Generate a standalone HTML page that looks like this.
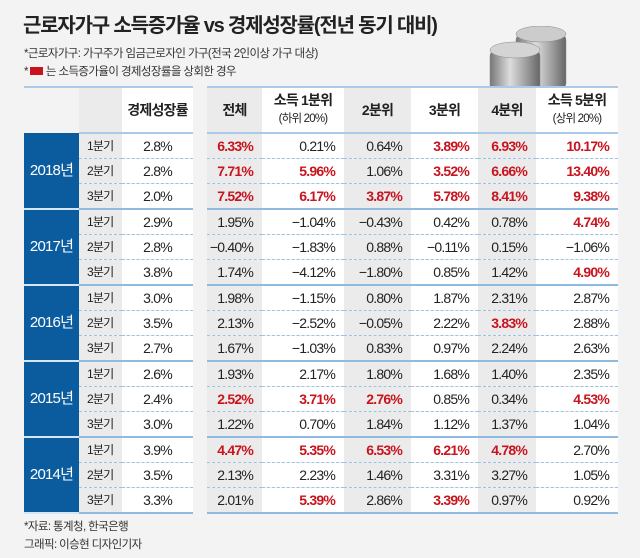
<!DOCTYPE html>
<html><head><meta charset="utf-8">
<style>
body{margin:0;width:640px;height:558px;background:#f3f3f3;font-family:"Liberation Sans","Noto Sans CJK KR",sans-serif;position:relative;overflow:hidden;color:#222}
.t{position:absolute;left:23px;top:9px;font-size:20px;font-weight:bold;letter-spacing:-1.2px;color:#222}
.s{position:absolute;left:24px;font-size:11.5px;letter-spacing:-0.6px;color:#333}
table{position:absolute;left:24px;top:86px;border-collapse:collapse;table-layout:fixed}
td{padding:0;height:24px;line-height:16px;font-size:14px;letter-spacing:-0.8px;border-bottom:1px dashed #9cc3e3;overflow:hidden;white-space:nowrap}
tr.h td{height:44px;border-top:2px solid #a9cbe8;border-bottom:2px solid #a9cbe8;font-weight:bold;text-align:center;font-size:14px;line-height:17px}
tr.h td.sm span{font-weight:normal;font-size:11.5px}
td.y{background:#0b5c9f;color:#fff;text-align:center;font-size:15px;border-bottom:2px solid #d6e5f2}
td.q{background:#ebebeb;font-size:12px;padding-left:8px}
td.gr{background:#fff;text-align:center}
td.gap{background:#f3f3f3;border:none!important}
td.g{background:#ebebeb}td.w{background:#fff}
td.n{text-align:right;padding-right:9px}
tr.e td{border-bottom:2px solid #8fbbe0}
tr.h td.none{border:none;background:#f3f3f3}
.r{color:#c8141e;font-weight:bold}
</style></head><body>
<div class="t">근로자가구 소득증가율 vs 경제성장률(전년 동기 대비)</div>
<div class="s" style="top:45px">*근로자가구: 가구주가 임금근로자인 가구(전국 2인이상 가구 대상)</div>
<div class="s" style="top:63px">*<span style="display:inline-block;width:13px;height:8px;background:#c8141e;margin:0 3px 0 2px"></span>는 소득증가율이 경제성장률을 상회한 경우</div>
<svg style="position:absolute;left:488px;top:26px" width="100" height="80">
<defs><linearGradient id="c" x1="0" x2="1"><stop offset="0" stop-color="#777"/><stop offset=".4" stop-color="#ddd"/><stop offset="1" stop-color="#666"/></linearGradient></defs>
<g fill="url(#c)" stroke="#888" stroke-width=".5">
<rect x="28" y="8" width="50" height="55" rx="6"/><ellipse cx="53" cy="8" rx="25" ry="8" fill="#ccc"/>
<rect x="2" y="24" width="50" height="46" rx="6"/><ellipse cx="27" cy="24" rx="25" ry="8" fill="#d4d4d4"/>
</g></svg>
<table>
<colgroup><col style="width:55px"><col style="width:43px"><col style="width:71px"><col style="width:14px"><col style="width:55px"><col style="width:82px"><col style="width:67px"><col style="width:67px"><col style="width:58px"><col style="width:82px"></colgroup>
<tr class="h"><td class="none" style="border-top:2px solid #a9cbe8"></td><td style="background:#ebebeb"></td><td class="w">경제성장률</td><td class="gap"></td><td class="g">전체</td><td class="w sm">소득 1분위<br><span>(하위 20%)</span></td><td class="g">2분위</td><td class="w">3분위</td><td class="g">4분위</td><td class="w sm">소득 5분위<br><span>(상위 20%)</span></td></tr>
<tr><td class="y" rowspan="3">2018년</td><td class="q">1분기</td><td class="gr">2.8%</td><td class="gap"></td><td class="g n r">6.33%</td><td class="w n">0.21%</td><td class="g n">0.64%</td><td class="w n r">3.89%</td><td class="g n r">6.93%</td><td class="w n r">10.17%</td></tr>
<tr><td class="q">2분기</td><td class="gr">2.8%</td><td class="gap"></td><td class="g n r">7.71%</td><td class="w n r">5.96%</td><td class="g n">1.06%</td><td class="w n r">3.52%</td><td class="g n r">6.66%</td><td class="w n r">13.40%</td></tr>
<tr class="e"><td class="q">3분기</td><td class="gr">2.0%</td><td class="gap"></td><td class="g n r">7.52%</td><td class="w n r">6.17%</td><td class="g n r">3.87%</td><td class="w n r">5.78%</td><td class="g n r">8.41%</td><td class="w n r">9.38%</td></tr>
<tr><td class="y" rowspan="3">2017년</td><td class="q">1분기</td><td class="gr">2.9%</td><td class="gap"></td><td class="g n">1.95%</td><td class="w n">−1.04%</td><td class="g n">−0.43%</td><td class="w n">0.42%</td><td class="g n">0.78%</td><td class="w n r">4.74%</td></tr>
<tr><td class="q">2분기</td><td class="gr">2.8%</td><td class="gap"></td><td class="g n">−0.40%</td><td class="w n">−1.83%</td><td class="g n">0.88%</td><td class="w n">−0.11%</td><td class="g n">0.15%</td><td class="w n">−1.06%</td></tr>
<tr class="e"><td class="q">3분기</td><td class="gr">3.8%</td><td class="gap"></td><td class="g n">1.74%</td><td class="w n">−4.12%</td><td class="g n">−1.80%</td><td class="w n">0.85%</td><td class="g n">1.42%</td><td class="w n r">4.90%</td></tr>
<tr><td class="y" rowspan="3">2016년</td><td class="q">1분기</td><td class="gr">3.0%</td><td class="gap"></td><td class="g n">1.98%</td><td class="w n">−1.15%</td><td class="g n">0.80%</td><td class="w n">1.87%</td><td class="g n">2.31%</td><td class="w n">2.87%</td></tr>
<tr><td class="q">2분기</td><td class="gr">3.5%</td><td class="gap"></td><td class="g n">2.13%</td><td class="w n">−2.52%</td><td class="g n">−0.05%</td><td class="w n">2.22%</td><td class="g n r">3.83%</td><td class="w n">2.88%</td></tr>
<tr class="e"><td class="q">3분기</td><td class="gr">2.7%</td><td class="gap"></td><td class="g n">1.67%</td><td class="w n">−1.03%</td><td class="g n">0.83%</td><td class="w n">0.97%</td><td class="g n">2.24%</td><td class="w n">2.63%</td></tr>
<tr><td class="y" rowspan="3">2015년</td><td class="q">1분기</td><td class="gr">2.6%</td><td class="gap"></td><td class="g n">1.93%</td><td class="w n">2.17%</td><td class="g n">1.80%</td><td class="w n">1.68%</td><td class="g n">1.40%</td><td class="w n">2.35%</td></tr>
<tr><td class="q">2분기</td><td class="gr">2.4%</td><td class="gap"></td><td class="g n r">2.52%</td><td class="w n r">3.71%</td><td class="g n r">2.76%</td><td class="w n">0.85%</td><td class="g n">0.34%</td><td class="w n r">4.53%</td></tr>
<tr class="e"><td class="q">3분기</td><td class="gr">3.0%</td><td class="gap"></td><td class="g n">1.22%</td><td class="w n">0.70%</td><td class="g n">1.84%</td><td class="w n">1.12%</td><td class="g n">1.37%</td><td class="w n">1.04%</td></tr>
<tr><td class="y" rowspan="3">2014년</td><td class="q">1분기</td><td class="gr">3.9%</td><td class="gap"></td><td class="g n r">4.47%</td><td class="w n r">5.35%</td><td class="g n r">6.53%</td><td class="w n r">6.21%</td><td class="g n r">4.78%</td><td class="w n">2.70%</td></tr>
<tr><td class="q">2분기</td><td class="gr">3.5%</td><td class="gap"></td><td class="g n">2.13%</td><td class="w n">2.23%</td><td class="g n">1.46%</td><td class="w n">3.31%</td><td class="g n">3.27%</td><td class="w n">1.05%</td></tr>
<tr class="e"><td class="q">3분기</td><td class="gr">3.3%</td><td class="gap"></td><td class="g n">2.01%</td><td class="w n r">5.39%</td><td class="g n">2.86%</td><td class="w n r">3.39%</td><td class="g n">0.97%</td><td class="w n">0.92%</td></tr>
</table>
<div class="s" style="top:518px">*자료: 통계청, 한국은행</div>
<div class="s" style="top:536px">그래픽: 이승현 디자인기자</div>
</body></html>
